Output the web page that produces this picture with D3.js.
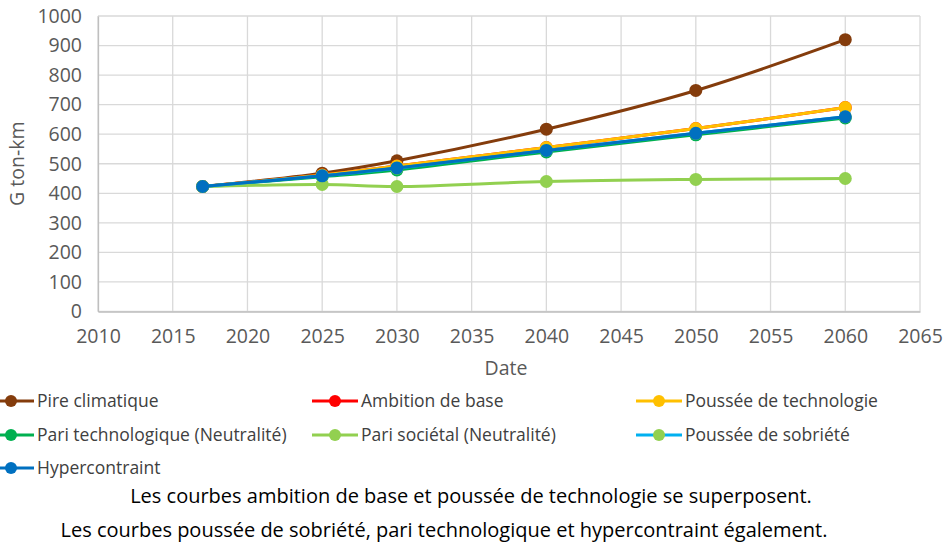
<!DOCTYPE html>
<html>
<head>
<meta charset="utf-8">
<script src="https://cdn.jsdelivr.net/npm/d3@7"></script>
<style>
  body { margin: 0; background: #fff; }
  text { font-family: "Open Sans", sans-serif; }
</style>
</head>
<body>
<div id="chart-area"></div>
<script>
// chart values
var years = [2017, 2025, 2030, 2040, 2050, 2060];
var pireClimatique = [423, 468, 510, 617, 748, 920];
var ambitionBase = [423, 462, 492, 555, 619, 690];
var pousseeTechno = [423, 462, 492, 555, 619, 690];
var pariTechno = [423, 456, 479, 540, 598, 655];
var pariSocietal = [423, 430, 423, 440, 447, 450];
var pousseeSobriete = [423, 459, 485, 545, 603, 659];
var hypercontraint = [423, 459, 486, 545, 603, 659];
var xTicks = [2010, 2015, 2020, 2025, 2030, 2035, 2040, 2045, 2050, 2055, 2060, 2065];
var yTicks = [0, 100, 200, 300, 400, 500, 600, 700, 800, 900, 1000];

var series = [
  {name: "Pire climatique", values: pireClimatique, line: "#843C0C", dot: "#843C0C"},
  {name: "Ambition de base", values: ambitionBase, line: "#FF0000", dot: "#FF0000"},
  {name: "Poussée de technologie", values: pousseeTechno, line: "#FFC000", dot: "#FFC000"},
  {name: "Pari technologique (Neutralité)", values: pariTechno, line: "#00B050", dot: "#00B050"},
  {name: "Pari sociétal (Neutralité)", values: pariSocietal, line: "#92D050", dot: "#92D050"},
  {name: "Poussée de sobriété", values: pousseeSobriete, line: "#00B0F0", dot: "#92D050"},
  {name: "Hypercontraint", values: hypercontraint, line: "#0070C0", dot: "#0070C0"}
];

var svg = d3.select("#chart-area").append("svg")
    .attr("width", 944)
    .attr("height", 544);

var x = d3.scaleLinear().domain([2010, 2065]).range([98, 920]);
var y = d3.scaleLinear().domain([0, 1000]).range([311.5, 16]);

// grid
svg.append("g").selectAll("line").data(yTicks).enter().append("line")
    .attr("x1", x(2010)).attr("x2", x(2065))
    .attr("y1", d => y(d)).attr("y2", d => y(d))
    .attr("stroke", "#d9d9d9").attr("stroke-width", 1.3);
svg.append("g").selectAll("line").data(xTicks).enter().append("line")
    .attr("x1", d => x(d)).attr("x2", d => x(d))
    .attr("y1", y(0)).attr("y2", y(1000))
    .attr("stroke", "#d9d9d9").attr("stroke-width", 1.3);

// axes
var xAxis = svg.append("g")
    .attr("transform", "translate(0," + y(0) + ")")
    .call(d3.axisBottom(x).tickValues(xTicks).tickFormat(d3.format("d")).tickSize(0).tickPadding(18));
var yAxis = svg.append("g")
    .attr("transform", "translate(" + x(2010) + ",0)")
    .call(d3.axisLeft(y).tickValues(yTicks).tickFormat(d3.format("d")).tickSize(0).tickPadding(16));
[xAxis, yAxis].forEach(function(a) {
  a.select(".domain").attr("stroke", "#bfbfbf").attr("stroke-width", 1.3);
  a.selectAll("text").attr("fill", "#595959").style("font-size", "19.5px");
});

svg.append("text")
    .attr("x", x(2037.3)).attr("y", 375)
    .attr("text-anchor", "middle")
    .attr("fill", "#595959").style("font-size", "19.5px")
    .text("Date");
svg.append("text")
    .attr("transform", "translate(24," + y(500) + ") rotate(-90)")
    .attr("text-anchor", "middle")
    .attr("fill", "#595959").style("font-size", "19.5px")
    .text("G ton-km");

// lines
var line = d3.line()
    .x((d, i) => x(years[i]))
    .y(d => y(d))
    .curve(d3.curveCatmullRom.alpha(0.5));

series.forEach(function(s) {
  var g = svg.append("g");
  g.append("path")
      .attr("d", line(s.values))
      .attr("fill", "none")
      .attr("stroke", s.line)
      .attr("stroke-width", 3);
  g.selectAll("circle").data(s.values).enter().append("circle")
      .attr("cx", (d, i) => x(years[i]))
      .attr("cy", d => y(d))
      .attr("r", 6.5)
      .attr("fill", s.dot);
});

// legend
var legendCols = [-12, 312, 636];
var legendRows = [401, 435, 468];
var legend = svg.append("g").selectAll("g").data(series).enter().append("g")
    .attr("transform", (d, i) => "translate(" + legendCols[i % 3] + "," + legendRows[Math.floor(i / 3)] + ")");
legend.append("line")
    .attr("x1", 0).attr("x2", 46)
    .attr("stroke", d => d.line).attr("stroke-width", 3);
legend.append("circle")
    .attr("cx", 23).attr("r", 6)
    .attr("fill", d => d.dot);
legend.append("text")
    .attr("x", 49).attr("dy", "0.35em")
    .attr("fill", "#404040").style("font-size", "17.5px")
    .text(d => d.name);

// notes
var notes = ["Les courbes ambition de base et poussée de technologie se superposent.",
  "Les courbes poussée de sobriété, pari technologique et hypercontraint également."];
var noteCenters = [471, 444];
svg.append("g").selectAll("text").data(notes).enter().append("text")
    .attr("x", (d, i) => noteCenters[i]).attr("y", (d, i) => 503 + i * 34)
    .attr("text-anchor", "middle")
    .attr("fill", "#000").style("font-size", "20px")
    .text(d => d);
</script>
</body>
</html>
